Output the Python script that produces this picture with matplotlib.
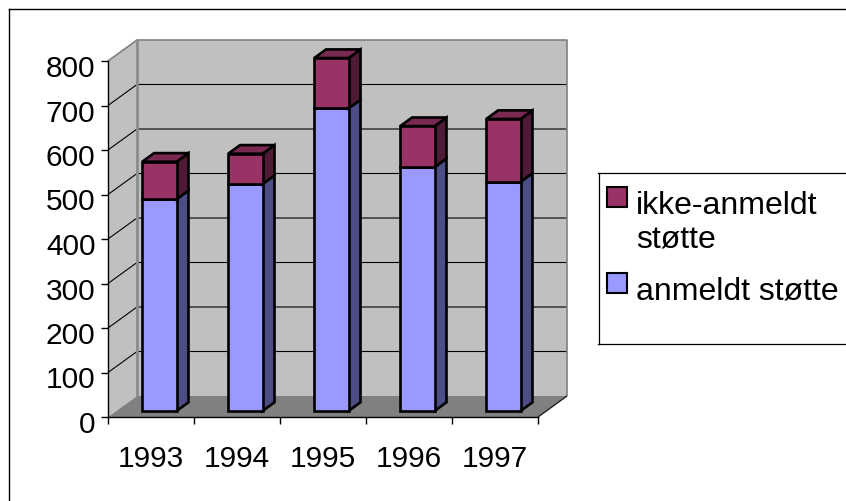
import matplotlib
matplotlib.use('Agg')
import matplotlib.pyplot as plt
from matplotlib.patches import Polygon, Rectangle
from matplotlib.lines import Line2D
from matplotlib.transforms import ScaledTranslation

# ---------------- data ----------------
years = ['1993', '1994', '1995', '1996', '1997']
anmeldt = [476, 510, 680, 548, 515]          # anmeldt støtte (light blue)
ikke_anmeldt = [84, 68, 113, 92, 141]        # ikke-anmeldt støtte (maroon)
legend_labels = ['ikke-anmeldt\nstøtte', 'anmeldt støtte']
yticks = [0, 100, 200, 300, 400, 500, 600, 700, 800]

# ---------------- style ----------------
plt.rcParams['font.family'] = ['Liberation Sans', 'DejaVu Sans']
W, H = 846, 501
fig = plt.figure(figsize=(W / 100, H / 100), dpi=100)
fig.patch.set_facecolor('white')

ax = fig.add_axes([108 / W, 1 - 417 / H, 430 / W, 356 / H])
n = len(years)
ymax = yticks[-1]
ax.set_xlim(0, n)
ax.set_ylim(0, ymax)
ax.patch.set_visible(False)

# oblique depth projection (depth 0 = front plane, 1 = back wall)
DX = 29 / 86.0                 # category units per full depth
DY = 21 / (356.0 / ymax)       # value units per full depth


def P(x, y, d):
    return (x + d * DX, y + d * DY)


def poly(pts, fc, ec='none', lw=0, z=1):
    p = Polygon(pts, closed=True, facecolor=fc, edgecolor=ec, linewidth=lw,
                zorder=z, clip_on=False, joinstyle='miter')
    ax.add_patch(p)


def line(pts, color, lw, z):
    xs = [p[0] for p in pts]
    ys = [p[1] for p in pts]
    ax.add_line(Line2D(xs, ys, color=color, linewidth=lw, zorder=z,
                       clip_on=False, solid_capstyle='butt'))


WALL = '#C0C0C0'
FLOOR = '#808080'
# walls and floor
poly([P(0, 0, 0), P(0, ymax, 0), P(0, ymax, 1), P(0, 0, 1)], WALL, z=0.1)
poly([P(0, 0, 1), P(n, 0, 1), P(n, ymax, 1), P(0, ymax, 1)], WALL, z=0.1)
poly([P(0, 0, 0), P(n, 0, 0), P(n, 0, 1), P(0, 0, 1)], FLOOR, z=0.2)

# gridlines
for v in yticks[1:-1]:
    line([P(0, v, 0), P(0, v, 1), P(n, v, 1)], 'black', 0.8, 0.3)
# wall edges
line([P(0, ymax, 0), P(0, ymax, 1), P(n, ymax, 1), P(n, 0, 1)], '#808080', 1.2, 0.35)
line([P(0, 0, 1), P(0, ymax, 1)], '#8C8C8C', 2.0, 0.35)
line([P(n, 0, 0), P(n, 0, 1)], '#202020', 1.0, 0.35)

# bars
BW = 0.4
F0, F1 = 0.29, 0.70
LB_F, LB_S = '#9999FF', '#4D4D85'
MR_F, MR_T, MR_S = '#993366', '#7A2952', '#4E1A35'
EDGE_LW = 1.9
for i in range(n):
    xl = i + 0.5 - BW / 2
    xr = xl + BW
    segs = [(0, anmeldt[i], LB_F, LB_S, None),
            (anmeldt[i], anmeldt[i] + ikke_anmeldt[i], MR_F, MR_S, MR_T)]
    for k, (y0, y1, cf, cs, ct) in enumerate(segs):
        z = 3 + i * 0.1 + k * 0.01
        poly([P(xr, y0, F0), P(xr, y0, F1), P(xr, y1, F1), P(xr, y1, F0)],
             cs, 'black', EDGE_LW, z)
        if ct is not None:
            poly([P(xl, y1, F0), P(xr, y1, F0), P(xr, y1, F1), P(xl, y1, F1)],
                 ct, 'black', EDGE_LW, z)
        poly([P(xl, y0, F0), P(xr, y0, F0), P(xr, y1, F0), P(xl, y1, F0)],
             cf, 'black', EDGE_LW, z + 0.001)

# axes / ticks
for s in ['top', 'right']:
    ax.spines[s].set_visible(False)
for s in ['left', 'bottom']:
    ax.spines[s].set_color('black')
    ax.spines[s].set_linewidth(1.0)
    ax.spines[s].set_zorder(2.5)

ax.set_yticks(yticks)
ax.set_yticklabels([str(v) for v in yticks])
ax.tick_params(axis='y', direction='out', length=5, width=1, pad=4,
               labelsize=21.5, colors='black')
shift = ScaledTranslation(0, -5 / 100, fig.dpi_scale_trans)
for lab in ax.get_yticklabels():
    lab.set_transform(lab.get_transform() + shift)
ax.set_xticks(range(n + 1))
ax.set_xticklabels([''] * (n + 1))
ax.set_xticks([i + 0.5 for i in range(n)], minor=True)
ax.set_xticklabels(years, minor=True)
ax.tick_params(axis='x', which='major', direction='out', length=5, width=1)
ax.tick_params(axis='x', which='minor', length=0, pad=20, labelsize=21.5)

# ---------------- outer frame ----------------
def fx(px):
    return px / W


def fy(py):
    return 1 - py / H


fig.add_artist(Line2D([fx(8.5), fx(8.5)], [fy(9), fy(H + 5)], color='black',
                      lw=1.0, transform=fig.transFigure))
fig.add_artist(Line2D([fx(8.5), fx(W + 5)], [fy(9), fy(9)], color='black',
                      lw=1.0, transform=fig.transFigure))

# ---------------- legend ----------------
for (xa, ya, xb, yb) in [(598.5, 173, 598.5, 343.5), (598, 173.5, W + 5, 173.5),
                         (598, 343.5, W + 5, 343.5)]:
    fig.add_artist(Line2D([fx(xa), fx(xb)], [fy(ya), fy(yb)], color='black',
                          lw=0.9, transform=fig.transFigure))

leg_colors = [MR_F, LB_F]
sw_tops = [187, 273]
txt_tops = [191, 277]
for c, st, tt, lab in zip(leg_colors, sw_tops, txt_tops, legend_labels):
    fig.add_artist(Rectangle((fx(607), fy(st + 20)), 20 / W, 20 / H,
                             facecolor=c, edgecolor='black', lw=1.5,
                             transform=fig.transFigure))
    fig.text(fx(636), fy(tt), lab, fontsize=23, va='top', ha='left',
             color='black')

fig.savefig('out.png', dpi=100, facecolor='white')
